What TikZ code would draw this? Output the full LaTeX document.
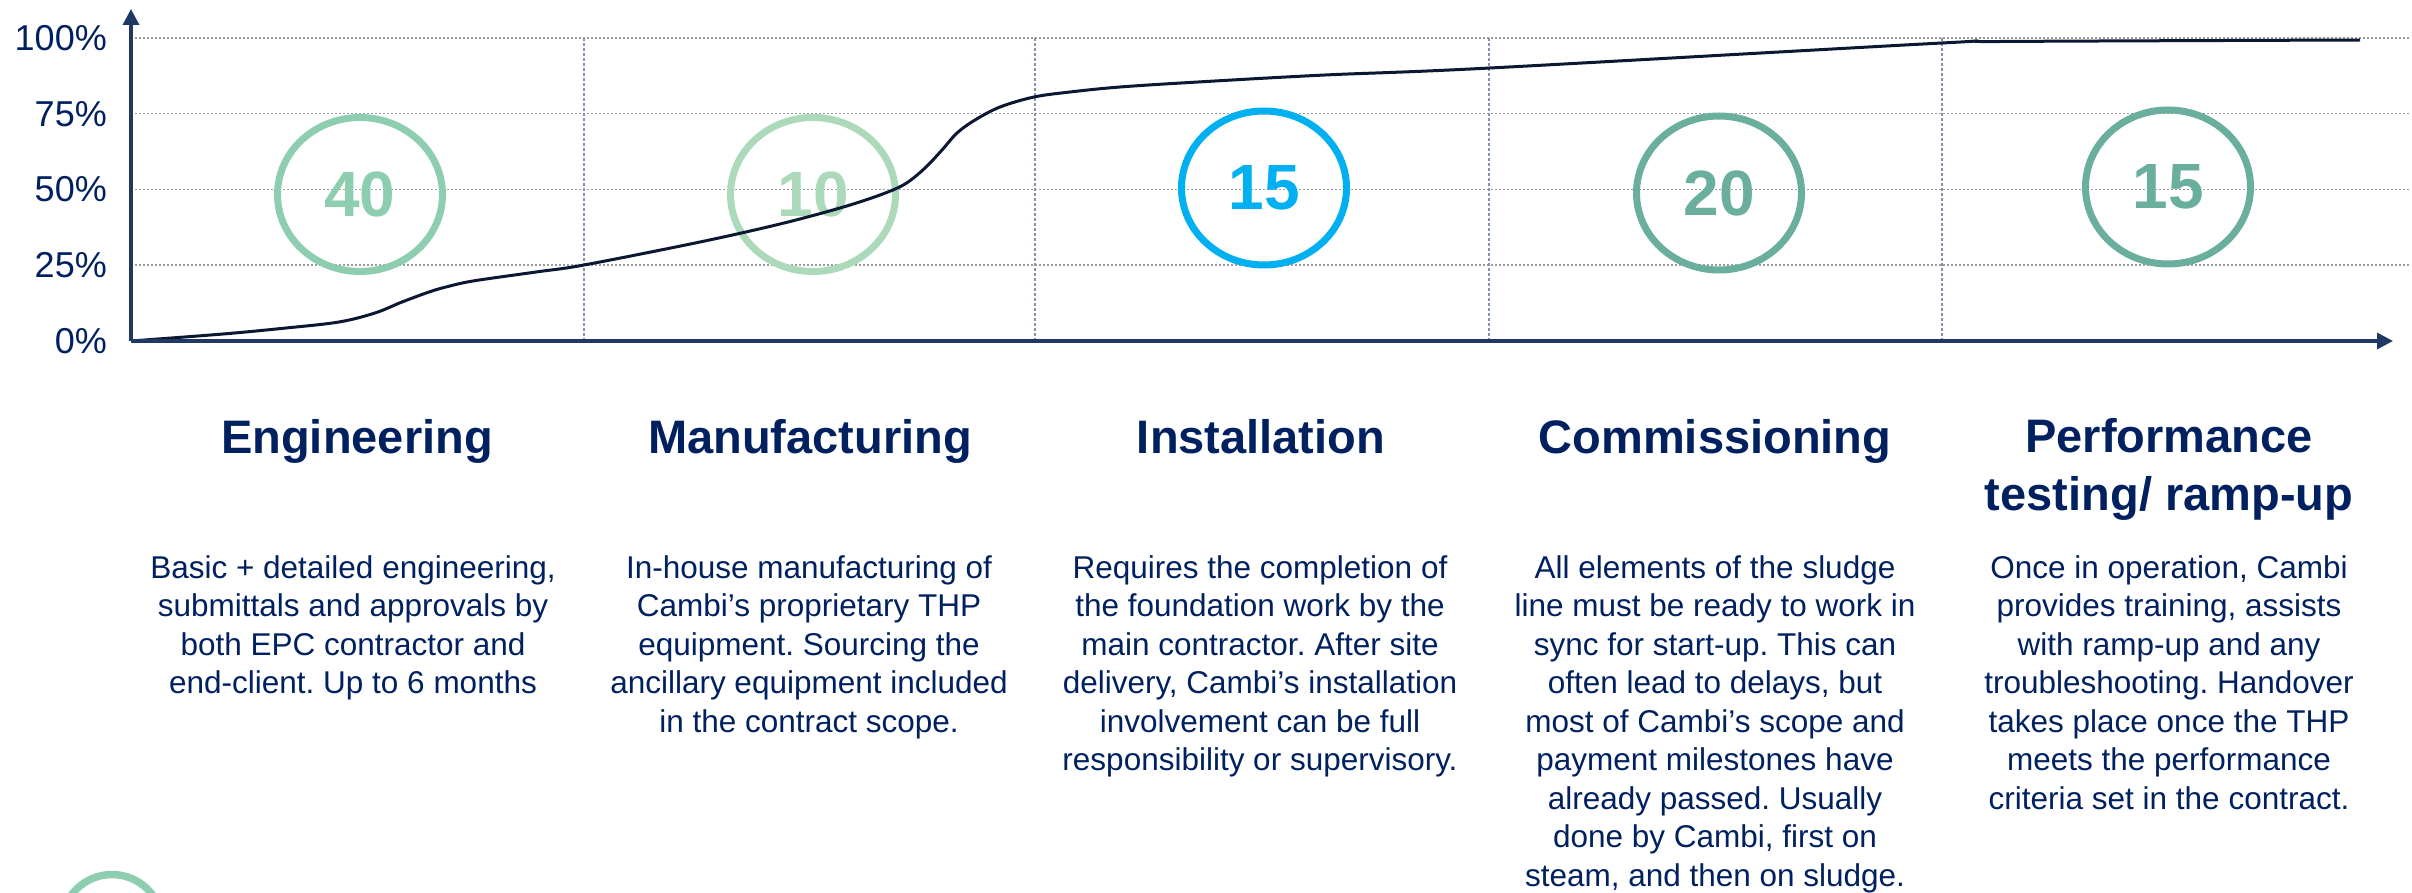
\documentclass[tikz,border=0pt]{standalone}
\usepackage{fontspec}
\setmainfont{Liberation Sans}
\usetikzlibrary{arrows.meta,shapes.geometric}
\definecolor{navy}{HTML}{002060}
\definecolor{axisblue}{HTML}{203864}
\definecolor{curvecol}{HTML}{0C1733}
\definecolor{gridgray}{HTML}{9C9C9C}
\definecolor{vgrid}{HTML}{8593AE}
\definecolor{cA}{HTML}{8DCDB0}
\definecolor{cB}{HTML}{ABD9B9}
\definecolor{cC}{HTML}{00B0F0}
\definecolor{cD}{HTML}{6AAE9D}
\frenchspacing
\begin{document}
\begin{tikzpicture}[x=1pt,y=-1pt,
  gridline/.style={gridgray, line width=1.5pt, dash pattern=on 2pt off 2pt},
  vline/.style={vgrid, line width=1.5pt, dash pattern=on 3pt off 2pt},
  axisline/.style={axisblue, line width=3.5pt, -{Triangle[length=16pt,width=16pt]}},
  ylab/.style={anchor=east, inner sep=0pt, text=navy, font=\fontsize{36}{40}\selectfont},
  ring/.style={ellipse, draw=#1, text=#1, line width=7pt, minimum width=165pt, minimum height=154pt, inner sep=0pt, font=\bfseries\fontsize{64}{70}\selectfont},
  phase/.style={anchor=base, align=center, inner sep=0pt, text=navy, font=\bfseries\fontsize{47}{58}\selectfont},
  desc/.style={anchor=base, align=center, inner sep=0pt, text=navy, font=\fontsize{31.5}{38.5}\selectfont},
]
\useasboundingbox (0,0) rectangle (2412,893);

% coordinates
\coordinate (O) at (131,341);
\coordinate (ytip) at (131,9);
\coordinate (xtip) at (2393,341);

% horizontal grid
\foreach \yy in {38,113.75,189.5,265.25} {
  \draw[gridline] (131,\yy) -- (2410,\yy);
}
% vertical grid
\foreach \xx in {584,1035,1489,1942} {
  \draw[vline] (\xx,38) -- (\xx,341);
}

% y labels
\node[ylab] (l100) at (107,38) {100\%};
\node[ylab] (l75) at (107,113.75) {75\%};
\node[ylab] (l50) at (107,189.5) {50\%};
\node[ylab] (l25) at (107,265.25) {25\%};
\node[ylab] (l0) at (107,341) {0\%};

% rings
\node[ring=cA] (r1) at (360,194.5) {40};
\node[ring=cB] (r2) at (813,194.5) {10};
\node[ring=cC] (r3) at (1264,188) {15};
\node[ring=cD] (r4) at (1719,193) {20};
\node[ring=cD] (r5) at (2168,187) {15};

% cumulative curve
\draw[curvecol, line width=3pt] plot[smooth, tension=0.55] coordinates {
 (131,341) (223,334) (286,328) (339,322) (375,313) (402,302) (429,292)
 (446,287) (473,281) (536,272) (584,265) (700,242) (780,224) (840,208)
 (880,195) (905,184) (925,168) (942,150) (957,133) (975,120) (1000,107)
 (1034,97) (1070,92) (1120,87) (1198,82) (1325,75) (1490,68)
 (1942,43) (2000,41.5) (2360,40)};

% axes
\draw[axisline] (O) -- (ytip);
\draw[axisline] (O) -- (xtip);

% titles (base anchor = baseline of last line)
\node[phase] (t1) at (357,453) {Engineering};
\node[phase] (t2) at (810,453) {Manufacturing};
\node[phase] (t3) at (1261,453) {Installation};
\node[phase] (t4) at (1715,453) {Commissioning};
\node[phase] (t5) at (2169,510) {Performance\\testing/ ramp-up};

% descriptions (first baseline at 578, 38.5 per line)
\node[desc] (d1) at (353,693.5) {Basic + detailed engineering,\\submittals and approvals by\\both EPC contractor and\\end-client. Up to 6 months};
\node[desc] (d2) at (809,732) {In-house manufacturing of\\Cambi’s proprietary THP\\equipment. Sourcing the\\ancillary equipment included\\in the contract scope.};
\node[desc] (d3) at (1260,770.5) {Requires the completion of\\the foundation work by the\\main contractor. After site\\delivery, Cambi’s installation\\involvement can be full\\responsibility or supervisory.};
\node[desc] (d4) at (1715,886) {All elements of the sludge\\line must be ready to work in\\sync for start-up. This can\\often lead to delays, but\\most of Cambi’s scope and\\payment milestones have\\already passed. Usually\\done by Cambi, first on\\steam, and then on sludge.};
\node[desc] (d5) at (2169,809) {Once in operation, Cambi\\provides training, assists\\with ramp-up and any\\troubleshooting. Handover\\takes place once the THP\\meets the performance\\criteria set in the contract.};

% partial legend ring at bottom-left
\begin{scope}
\clip (0,0) rectangle (2412,893);
\node[circle, draw=cA, line width=7.5pt, minimum size=101pt, inner sep=0pt] (leg) at (112,925) {};
\end{scope}
\end{tikzpicture}
\end{document}
